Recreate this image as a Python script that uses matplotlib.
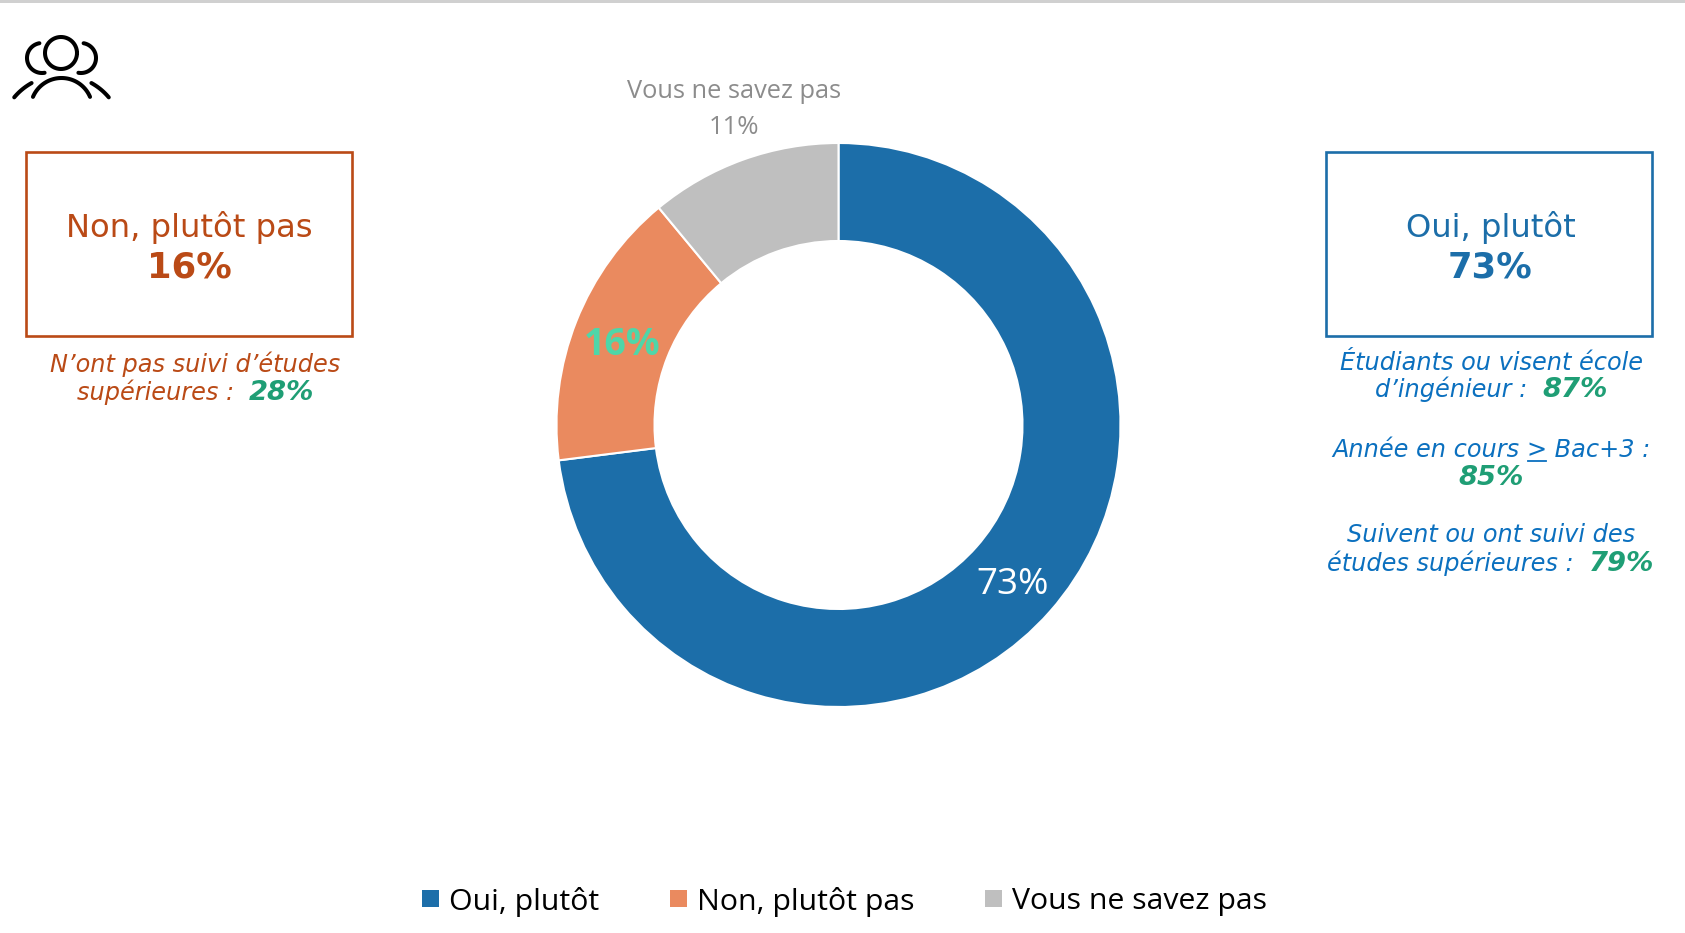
import numpy as np
import matplotlib
matplotlib.use('Agg')
import matplotlib.pyplot as plt
from matplotlib.patches import Rectangle

W, H = 1685, 933

# data
categories = ['Oui, plutôt', 'Non, plutôt pas', 'Vous ne savez pas']
values = [73, 16, 11]
colors = ['#1C6EA9', '#EA8A5F', '#BFBFBF']

BLUE = '#1C6EA9'
LIGHT_BLUE = '#0B70BF'
RUST = '#BA4A16'
GREEN = '#1F9E75'

fig = plt.figure(figsize=(W / 100, H / 100), dpi=100, facecolor='white')

# overlay in pixel coordinates for the boxes and texts
ov = fig.add_axes([0, 0, 1, 1], zorder=2)
ov.set_xlim(0, W)
ov.set_ylim(H, 0)
ov.axis('off')
ov.patch.set_alpha(0)

# donut
cx, cy, r_out, r_in = 838.5, 425, 282, 184
ax = fig.add_axes([(cx - r_out) / W, 1 - (cy + r_out) / H, 2 * r_out / W, 2 * r_out / H], zorder=1)
ax.pie(values, colors=colors, startangle=90, counterclock=False, radius=1,
       wedgeprops=dict(width=1 - r_in / r_out, edgecolor='white', linewidth=1.5))
ax.set_xlim(-1, 1)
ax.set_ylim(-1, 1)

SEGOE = 'Open Sans'

# data labels
ov.text(1013, 585, '%d%%' % values[0], color='white', fontsize=26.5, family=SEGOE, ha='center', va='center')
ov.text(622, 345, '%d%%' % values[1], color='#4FD6A8', fontsize=27, family=SEGOE, weight='bold', ha='center', va='center')
ov.text(734, 92, categories[2], color='#8C8C8C', fontsize=18.3, family=SEGOE, ha='center', va='center')
ov.text(734, 127, '%d%%' % values[2], color='#8C8C8C', fontsize=18.5, family=SEGOE, ha='center', va='center')

# top rule
ov.add_patch(Rectangle((0, 0), W, 3, color='#D0D0D0', lw=0))

# boxes
ov.add_patch(Rectangle((25.5, 152), 326, 184, fill=False, edgecolor=RUST, lw=1.9))
ov.text(189, 237, categories[1], color=RUST, fontsize=23.2, ha='center', va='baseline')
ov.text(189, 277, '%d%%' % values[1], color=RUST, fontsize=25.5, weight='bold', ha='center', va='baseline')

ov.add_patch(Rectangle((1325.5, 152), 326, 184, fill=False, edgecolor=BLUE, lw=1.9))
ov.text(1491, 237, categories[0], color=BLUE, fontsize=23.2, ha='center', va='baseline')
ov.text(1490, 277, '%d%%' % values[0], color=BLUE, fontsize=25.5, weight='bold', ha='center', va='baseline')


def text_runs(xc, y, runs, size=17.3):
    """Centered line made of several coloured pieces: (text, colour, bold, underlined)"""
    rend = fig.canvas.get_renderer()
    items = []
    for s, col, bold, under in runs:
        fs = size * 1.14 if bold else size
        w8 = 'bold' if bold else 'normal'
        t = ov.text(0, y, s, color=col, fontsize=fs, style='italic', weight=w8, ha='left', va='baseline')
        # trailing spaces are not measured, so pad with a dot
        probe = ov.text(0, y, s + '.', fontsize=fs, style='italic', weight=w8)
        dot = ov.text(0, y, '.', fontsize=fs, style='italic', weight=w8)
        w = probe.get_window_extent(rend).width - dot.get_window_extent(rend).width
        probe.remove()
        dot.remove()
        items.append((t, w, col, under))
    x = xc - sum(i[1] for i in items) / 2
    for t, w, col, under in items:
        t.set_x(x)
        if under:
            ov.plot([x + 1, x + w - 1], [y + 4, y + 4], color=col, lw=1.3)
        x += w


# side notes
text_runs(195.5, 372, [('N’ont pas suivi d’études', RUST, False, False)])
text_runs(195.5, 400, [('supérieures :  ', RUST, False, False), ('28%', GREEN, True, False)])

text_runs(1491, 370, [('Étudiants ou visent école', LIGHT_BLUE, False, False)])
text_runs(1491, 397, [('d’ingénieur :  ', LIGHT_BLUE, False, False), ('87%', GREEN, True, False)])
text_runs(1491, 457, [('Année en cours ', LIGHT_BLUE, False, False), ('>', LIGHT_BLUE, False, True),
                      (' Bac+3 :', LIGHT_BLUE, False, False)])
text_runs(1491, 485, [('85%', GREEN, True, False)])
text_runs(1491, 542, [('Suivent ou ont suivi des', LIGHT_BLUE, False, False)])
text_runs(1491, 571, [('études supérieures :  ', LIGHT_BLUE, False, False), ('79%', GREEN, True, False)])

# legend
legend_x = [422, 670, 985]
for lx, cat, col in zip(legend_x, categories, colors):
    ov.add_patch(Rectangle((lx, 890), 17, 17, color=col, lw=0))
    ov.text(lx + 27, 902, cat, color='black', fontsize=21.8, family=SEGOE, ha='left', va='center')


def arc(x0, y0, r, a1, a2):
    t = np.radians(np.linspace(a1, a2, 60))
    ov.plot(x0 + r * np.cos(t), y0 - r * np.sin(t), color='black', lw=2.9, solid_capstyle='round')


# people icon
arc(61, 53, 16, 0, 360)
arc(42, 58, 15, 100, 280)
arc(81, 58, 15, -100, 80)
arc(61.5, 109, 31, 23, 157)
arc(61.5, 137, 61.7, 119, 140)
arc(61.5, 137, 61.7, 40, 61)

fig.savefig('out.png', dpi=100)
